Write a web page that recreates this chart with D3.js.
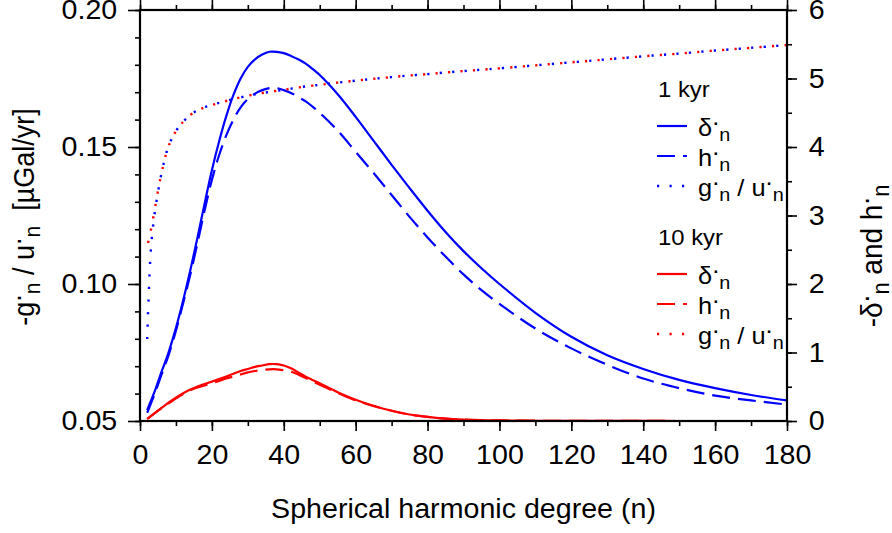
<!DOCTYPE html>
<html>
<head>
<meta charset="utf-8">
<script src="https://cdn.jsdelivr.net/npm/d3@7"></script>
<style>
  html, body { margin: 0; padding: 0; background: #fff; }
  svg { display: block; }
  text { font-family: "Liberation Sans", Arial, Helvetica, sans-serif; fill: #000; white-space: pre; }
</style>
</head>
<body>
<svg id="chart" width="892" height="533"></svg>
<script>
// Spherical harmonic degrees at which every series is sampled
const degrees = [2,3,4,5,6,7,8,10,12,14,16,18,20,22,24,26,28,30,32,34,36,38,40,42,44,46,48,50,55,60,65,70,75,80,85,90,95,100,110,120,130,140,150,160,170,180];

// 1 kyr series
const delta1 = [0.16,0.29,0.42,0.57,0.72,0.86,1.01,1.36,1.76,2.20,2.68,3.18,3.66,4.08,4.45,4.76,5.00,5.17,5.28,5.35,5.39,5.39,5.37,5.33,5.28,5.22,5.14,5.05,4.77,4.44,4.09,3.74,3.40,3.07,2.76,2.48,2.23,2.00,1.58,1.23,0.96,0.76,0.60,0.48,0.38,0.30];
const h1 = [0.12,0.25,0.38,0.53,0.68,0.82,0.97,1.32,1.72,2.14,2.60,3.08,3.52,3.88,4.17,4.40,4.58,4.70,4.78,4.83,4.86,4.86,4.83,4.79,4.73,4.67,4.59,4.50,4.24,3.93,3.62,3.30,2.98,2.68,2.40,2.14,1.91,1.71,1.35,1.06,0.82,0.62,0.48,0.37,0.30,0.24];
const gu1 = [0.0799,0.112,0.125,0.1335,0.1405,0.1462,0.1505,0.1558,0.1592,0.1617,0.1634,0.1645,0.1653,0.1661,0.1668,0.1675,0.1681,0.1687,0.1692,0.1697,0.1701,0.1705,0.1709,0.1713,0.1717,0.1721,0.1724,0.1727,0.1735,0.1742,0.1749,0.1755,0.1761,0.1766,0.1772,0.1777,0.1782,0.1787,0.1798,0.1809,0.1820,0.1831,0.1841,0.1852,0.1862,0.1872];

// 10 kyr series
const delta10 = [0.03,0.07,0.11,0.15,0.19,0.23,0.27,0.34,0.405,0.46,0.505,0.54,0.575,0.612,0.65,0.69,0.73,0.76,0.79,0.81,0.83,0.83,0.81,0.77,0.71,0.65,0.60,0.55,0.42,0.31,0.22,0.15,0.095,0.06,0.035,0.02,0.012,0.008,0.004,0.002,0.001,0.001,0,0,0,0];
const h10 = [0.03,0.07,0.11,0.15,0.19,0.23,0.26,0.33,0.395,0.45,0.49,0.52,0.552,0.585,0.62,0.65,0.68,0.71,0.73,0.745,0.755,0.755,0.74,0.72,0.68,0.63,0.58,0.53,0.41,0.30,0.22,0.15,0.095,0.06,0.035,0.02,0.012,0.008,0.004,0.002,0.001,0.001,0,0,0,0];
const gu10 = [0.1136,0.1195,0.1265,0.134,0.1405,0.1462,0.1505,0.1558,0.1592,0.1617,0.1634,0.1645,0.1653,0.1661,0.1668,0.1675,0.1681,0.1687,0.1692,0.1697,0.1701,0.1705,0.1709,0.1713,0.1717,0.1721,0.1724,0.1727,0.1735,0.1742,0.1749,0.1755,0.1761,0.1766,0.1772,0.1777,0.1782,0.1787,0.1798,0.1809,0.1820,0.1831,0.1841,0.1852,0.1862,0.1872];

// Axis ticks
const xTicks = [0,20,40,60,80,100,120,140,160,180];
const xMinor = d3.range(0, 181, 10);
const leftTicks = [0.05,0.10,0.15,0.20];
const leftMinor = d3.range(0.05, 0.2001, 0.01);
const rightTicks = [0,1,2,3,4,5,6];
const rightMinor = d3.range(0, 6.01, 0.5);

const BLUE = "#0000ff", RED = "#ff0000";
const FS = 27;          // axis font size
const SX = 1.06;        // slight horizontal widening of glyphs

const svg = d3.select("#chart");
const x0 = 140, x1 = 787, y0 = 10, y1 = 421;

const x = d3.scaleLinear().domain([0, 180]).range([x0, x1]);
const yL = d3.scaleLinear().domain([0.05, 0.20]).range([y1, y0]);
const yR = d3.scaleLinear().domain([0, 6]).range([y1, y0]);

// Text with raised dots and subscripts
function rich(t, parts, fs) {
  let shift = 0;
  parts.forEach(([s, k]) => {
    const target = k === "dot" ? -0.45 * fs : k === "sub" ? 0.22 * fs : 0;
    t.append("tspan")
      .attr("dy", target - shift)
      .style("font-size", (k === "sub" ? 0.78 * fs : fs) + "px")
      .text(s);
    shift = target;
  });
  return t;
}

function styleAxis(g, showText) {
  g.attr("font-size", null).attr("font-family", null);
  g.select(".domain").remove();
  g.selectAll(".tick line").attr("stroke", "#000").attr("stroke-width", 1.6);
  if (showText) {
    g.selectAll(".tick text").style("font-size", FS + "px").attr("fill", "#000");
  } else {
    g.selectAll(".tick text").remove();
  }
}

// Minor ticks
svg.append("g").attr("transform", `translate(0,${y1})`)
  .call(d3.axisBottom(x).tickValues(xMinor).tickSize(5).tickFormat(""))
  .call(g => styleAxis(g, false));
svg.append("g").attr("transform", `translate(0,${y0})`)
  .call(d3.axisTop(x).tickValues(xMinor).tickSize(5).tickFormat(""))
  .call(g => styleAxis(g, false));
svg.append("g").attr("transform", `translate(${x0},0)`)
  .call(d3.axisLeft(yL).tickValues(leftMinor).tickSize(5).tickFormat(""))
  .call(g => styleAxis(g, false));
svg.append("g").attr("transform", `translate(${x1},0)`)
  .call(d3.axisRight(yR).tickValues(rightMinor).tickSize(5).tickFormat(""))
  .call(g => styleAxis(g, false));

// Major ticks and labels
svg.append("g").attr("transform", `translate(0,${y1})`)
  .call(d3.axisBottom(x).tickValues(xTicks).tickSize(10).tickPadding(14).tickFormat(d3.format("d")))
  .call(g => { styleAxis(g, true); g.selectAll(".tick text").attr("transform", `scale(${SX},1)`); });
svg.append("g").attr("transform", `translate(0,${y0})`)
  .call(d3.axisTop(x).tickValues(xTicks).tickSize(10).tickFormat(""))
  .call(g => styleAxis(g, false));
svg.append("g").attr("transform", `translate(${x0},0)`)
  .call(d3.axisLeft(yL).tickValues(leftTicks).tickSize(12).tickPadding(9.5).tickFormat(d3.format(".2f")))
  .call(g => { styleAxis(g, true); g.selectAll(".tick text").attr("transform", `scale(${SX},1)`); });
svg.append("g").attr("transform", `translate(${x1},0)`)
  .call(d3.axisRight(yR).tickValues(rightTicks).tickSize(10).tickPadding(10.5).tickFormat(d3.format("d")))
  .call(g => { styleAxis(g, true); g.selectAll(".tick text").attr("transform", `scale(${SX},1)`); });

// Curves
svg.append("clipPath").attr("id", "plotclip")
  .append("rect").attr("x", x0).attr("y", y0 - 2).attr("width", x1 - x0).attr("height", y1 - y0 + 2);

const plot = svg.append("g").attr("clip-path", "url(#plotclip)");

function lineOf(vals, yScale) {
  return d3.line()
    .x((d, i) => x(degrees[i]))
    .y(d => yScale(d))
    .curve(d3.curveCatmullRom.alpha(0.5))(vals);
}

const DASH = "18,8";
const DOT = "2.2,10.3";

const series = [
  { vals: delta1, y: yR, color: BLUE, dash: null },
  { vals: h1, y: yR, color: BLUE, dash: DASH },
  { vals: gu1, y: yL, color: BLUE, dash: DOT, offset: 0 },
  { vals: delta10, y: yR, color: RED, dash: null },
  { vals: h10, y: yR, color: RED, dash: DASH },
  { vals: gu10, y: yL, color: RED, dash: DOT, offset: -4 }
];

series.forEach(s => {
  plot.append("path")
    .attr("d", lineOf(s.vals, s.y))
    .attr("fill", "none")
    .attr("stroke", s.color)
    .attr("stroke-width", s.dash === DOT ? 2.4 : 2.2)
    .attr("stroke-dasharray", s.dash)
    .attr("stroke-dashoffset", s.offset || 0);
});

// Frame
svg.append("rect")
  .attr("x", x0).attr("y", y0).attr("width", x1 - x0).attr("height", y1 - y0)
  .attr("fill", "none").attr("stroke", "#000").attr("stroke-width", 2.2);

// Axis titles
svg.append("text")
  .attr("transform", `translate(${(x0 + x1) / 2},518) scale(${SX},1)`)
  .attr("text-anchor", "middle")
  .style("font-size", "27px")
  .text("Spherical harmonic degree (n)");

rich(svg.append("text")
  .attr("transform", `translate(34,217) rotate(-90) scale(1,${SX})`)
  .attr("text-anchor", "middle"),
  [["-g", "n"], [".", "dot"], ["n", "sub"], [" / u", "n"], [".", "dot"], ["n", "sub"], ["  [µGal/yr]", "n"]], FS);

rich(svg.append("text")
  .attr("transform", `translate(882,256) rotate(-90) scale(1,${SX})`)
  .attr("text-anchor", "middle"),
  [["-δ", "n"], [".", "dot"], ["n", "sub"], [" and h", "n"], [".", "dot"], ["n", "sub"]], 28);

// Legend
const legendGroups = [
  { title: "1 kyr", color: BLUE, top: 97 },
  { title: "10 kyr", color: RED, top: 245 }
];
const legendEntries = [
  { dash: null, label: [["δ", "n"], [".", "dot"], ["n", "sub"]] },
  { dash: DASH, label: [["h", "n"], [".", "dot"], ["n", "sub"]] },
  { dash: DOT, label: [["g", "n"], [".", "dot"], ["n", "sub"], [" / u", "n"], [".", "dot"], ["n", "sub"]] }
];
const LFS = 24;
legendGroups.forEach(gp => {
  svg.append("text")
    .attr("transform", `translate(658,${gp.top}) scale(${SX},1)`)
    .style("font-size", "22.5px")
    .text(gp.title);
  legendEntries.forEach((e, i) => {
    const ly = gp.top + 29 + i * 30;
    svg.append("line")
      .attr("x1", 657).attr("x2", 687).attr("y1", ly).attr("y2", ly)
      .attr("stroke", gp.color)
      .attr("stroke-width", e.dash === DOT ? 2.4 : 2.2)
      .attr("stroke-dasharray", e.dash);
    rich(svg.append("text")
      .attr("transform", `translate(698,${ly + 10}) scale(${SX},1)`), e.label, LFS);
  });
});
</script>
</body>
</html>
